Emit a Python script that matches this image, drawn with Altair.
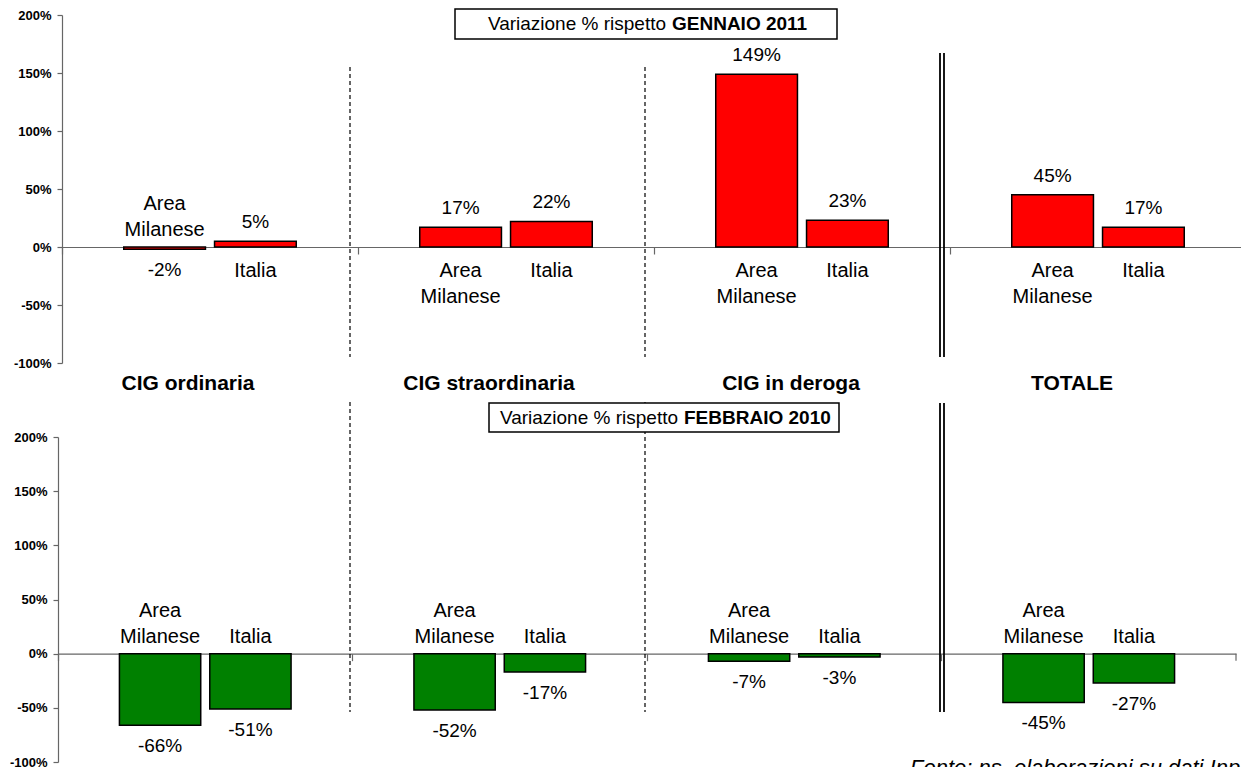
import altair as alt
import pandas as pd

categories = ["CIG ordinaria", "CIG straordinaria", "CIG in deroga", "TOTALE"]
series = ["Area Milanese", "Italia"]
gen_area = [-2, 17, 149, 45]
gen_italia = [5, 22, 23, 17]
feb_area = [-66, -52, -7, -45]
feb_italia = [-51, -17, -3, -27]
y_ticks = [-100, -50, 0, 50, 100, 150, 200]
box_top = ["Variazione % rispetto", "GENNAIO 2011"]
box_bottom = ["Variazione % rispetto", "FEBBRAIO 2010"]
footnote = "Fonte: ns. elaborazioni su dati Inps"

FONT = "Liberation Sans"
W, H = 1184, 752
TITLE_DX = [-22, -17, -11, -26]


def table(area, italia):
    rows = []
    for c, a, i in zip(categories, area, italia):
        rows.append({"cat": c, "series": series[0], "value": a})
        rows.append({"cat": c, "series": series[1], "value": i})
    return pd.DataFrame(rows)


one = pd.DataFrame({"k": [0]})


def panel(df, color, x_range, y_range, y_off, box_text, box_geom, seps, titles, note):
    zero_px = y_range[1] + (y_range[0] - y_range[1]) * 200 / 300
    x = alt.X("cat:N", sort=categories,
              scale=alt.Scale(paddingInner=0, paddingOuter=0, range=x_range),
              axis=alt.Axis(title=None, labels=False, bandPosition=0, tickSize=7,
                            orient="bottom", offset=-(H - zero_px), domainColor="#666",
                            tickColor="#666", domainWidth=1.2, tickWidth=1.2))
    xo = alt.XOffset("series:N", sort=series,
                     scale=alt.Scale(paddingInner=0.1, paddingOuter=0.68))
    y = alt.Y("value:Q", scale=alt.Scale(domain=[-100, 200], nice=False, zero=False,
                                         range=y_range),
              axis=alt.Axis(values=y_ticks, labelExpr="datum.value + '%'", title=None,
                            orient="left", grid=False, tickSize=5, labelPadding=6,
                            labelFontWeight="bold", labelFontSize=13, labelColor="black",
                            labelFont=FONT, domainColor="#666", tickColor="#666",
                            domainWidth=1.2, tickWidth=1.2, offset=y_off))
    base = alt.Chart(df)
    layers = []
    # bars first so they own the scales
    layers.append(base.mark_bar(fill=color, stroke="black", strokeWidth=1.5)
                  .encode(x=x, xOffset=xo, y=y))
    # closing tick at the right end of the category axis
    layers.append(alt.Chart(one).mark_rule(color="#666", strokeWidth=1.2)
                  .encode(x=alt.value(x_range[1]), y=alt.value(zero_px), y2=alt.value(zero_px + 7)))
    # separators
    (dx1, dx2, dbl1, dbl2, dy1, dy2, ddy1) = seps
    for sx in (dx1, dx2):
        layers.append(alt.Chart(one).mark_rule(color="black", strokeWidth=1.2, strokeDash=[4, 3])
                      .encode(x=alt.value(sx), y=alt.value(dy1), y2=alt.value(dy2)))
    for sx in (dbl1, dbl2):
        layers.append(alt.Chart(one).mark_rule(color="black", strokeWidth=1.8)
                      .encode(x=alt.value(sx), y=alt.value(ddy1), y2=alt.value(dy2)))
    # box
    bx1, bx2, by1, by2, tx, ty = box_geom
    layers.append(alt.Chart(one).mark_rect(fill="white", stroke="black", strokeWidth=1.5)
                  .encode(x=alt.value(bx1), x2=alt.value(bx2), y=alt.value(by1), y2=alt.value(by2)))
    layers.append(alt.Chart(one).mark_text(text=box_text[0], align="right", baseline="middle",
                                           fontSize=19, font=FONT, color="black")
                  .encode(x=alt.value(tx - 3), y=alt.value(ty)))
    layers.append(alt.Chart(one).mark_text(text=box_text[1], align="left", baseline="middle",
                                           fontSize=19, font=FONT, fontWeight="bold", color="black")
                  .encode(x=alt.value(tx + 3), y=alt.value(ty)))
    # value labels
    lab = base.transform_calculate(lab="datum.value + '%'")
    layers.append(lab.transform_filter("datum.value >= 0")
                  .mark_text(fontSize=19, font=FONT, baseline="middle", dy=-19, color="black")
                  .encode(x=x, xOffset=xo, y=y, text="lab:N"))
    layers.append(lab.transform_filter("datum.value < 0")
                  .mark_text(fontSize=19, font=FONT, baseline="middle", dy=21, color="black")
                  .encode(x=x, xOffset=xo, y=y, text="lab:N"))
    # series labels: below the axis for positive bars, above it for negative ones
    layers.append(base.transform_filter("datum.value >= 0")
                  .mark_text(fontSize=20, font=FONT, baseline="top", dy=14, lineBreak=" ",
                             lineHeight=26, color="black")
                  .encode(x=x, xOffset=xo, y=alt.datum(0), text="series:N"))
    layers.append(base.transform_filter("datum.value < 0 && datum.series == '%s'" % series[0])
                  .mark_text(fontSize=20, font=FONT, baseline="bottom", dy=-33, lineBreak=" ",
                             lineHeight=26, color="black")
                  .encode(x=x, xOffset=xo, y=alt.datum(0), text="series:N"))
    layers.append(base.transform_filter("datum.value < 0 && datum.series == '%s'" % series[1])
                  .mark_text(fontSize=20, font=FONT, baseline="bottom", dy=-7, lineBreak=" ",
                             lineHeight=26, color="black")
                  .encode(x=x, xOffset=xo, y=alt.datum(0), text="series:N"))
    if titles:
        tdf = pd.DataFrame({"cat": categories})
        for c, ddx in zip(categories, TITLE_DX):
            layers.append(alt.Chart(tdf).transform_filter(alt.datum.cat == c)
                          .mark_text(fontSize=21, font=FONT, fontWeight="bold", baseline="middle",
                                     dy=21, dx=ddx, color="black")
                          .encode(x=alt.X("cat:N", sort=categories), y=alt.datum(-100),
                                  text="cat:N"))
    if note:
        nx, ny = note
        layers.append(alt.Chart(one).mark_text(text=footnote, align="left", baseline="alphabetic",
                                               fontSize=22, font=FONT, fontStyle="italic",
                                               color="black")
                      .encode(x=alt.value(nx), y=alt.value(ny)))
    return alt.layer(*layers)


top = panel(table(gen_area, gen_italia), "#FF0000", [0, 1184], [348, 0], 0, box_top,
            (393, 775, -6, 24, 607, 9), (288, 583, 878, 882, 52, 342, 38), True, None)
bottom = panel(table(feb_area, feb_italia), "#008000", [-4, 1174], [747, 422], 4, box_bottom,
               (427, 777, 388, 417, 619, 403), (288, 583, 878, 882, 387, 697, 388), False,
               (848, 760))

chart = alt.layer(top, bottom).resolve_scale(
    x="independent", y="independent", xOffset="independent"
).properties(
    width=W, height=H,
    autosize=alt.AutoSizeParams(type="none"),
    padding={"left": 54, "top": 7, "right": -5, "bottom": 0},
).configure(font=FONT).configure_view(stroke=None)

chart.save("out.html", embed_options={"renderer": "svg", "actions": False})
